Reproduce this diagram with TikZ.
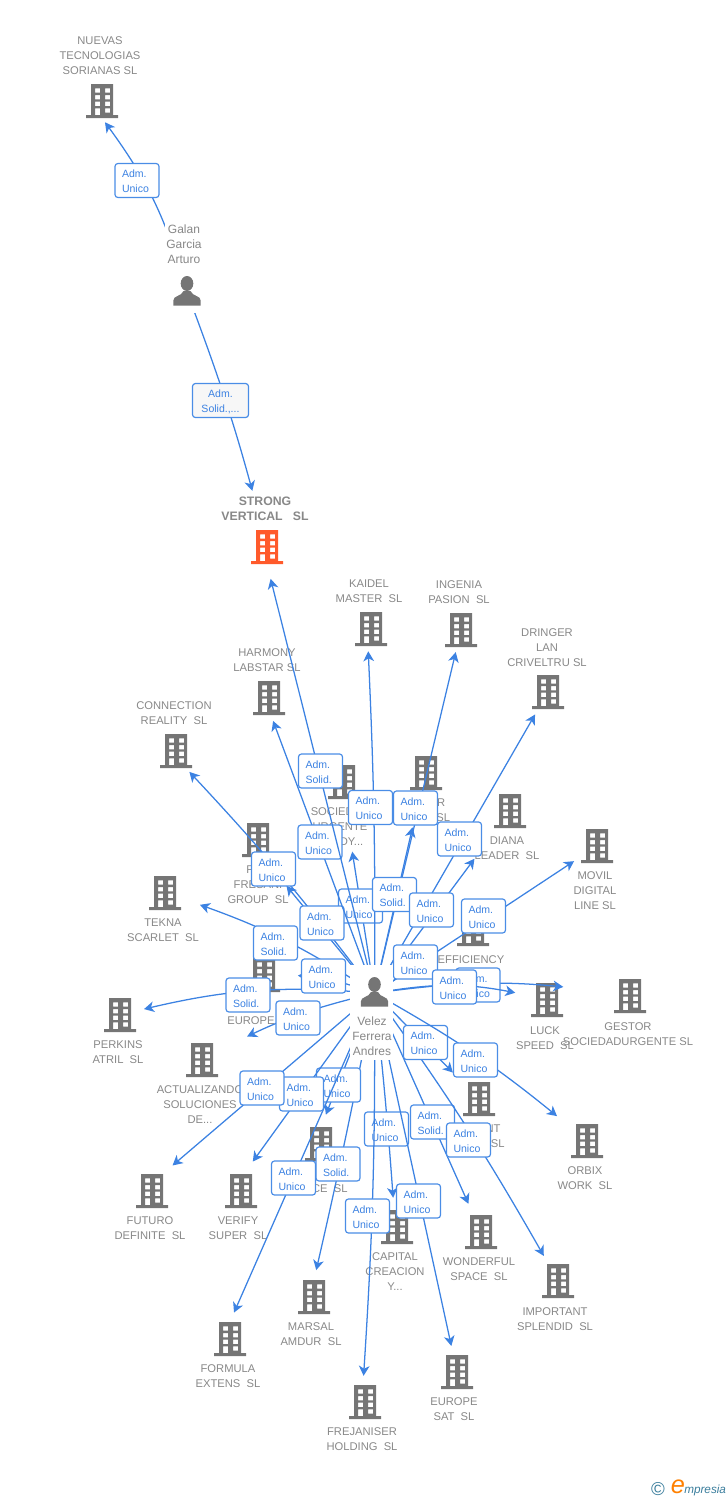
\documentclass[tikz,border=0pt]{standalone}
\usepackage{fontspec}
\setmainfont{Liberation Sans}
\usetikzlibrary{arrows.meta,bending}
\definecolor{linkblue}{HTML}{3C82E2}
\definecolor{boxblue}{HTML}{4A8DE6}
\definecolor{namegray}{HTML}{888888}
\definecolor{icongray}{HTML}{757575}
\definecolor{strongred}{HTML}{FF5A2B}
\definecolor{logoteal}{HTML}{3A7D9C}
\def\px{0.75pt}
\def\building[#1](#2)(#3){\node[inner sep=0pt,minimum width=32*\px,minimum height=34*\px] (#2) at (#3) {};
	\fill[#1,even odd rule,shift={(#3)}] (-16,17) rectangle (16,14) (-11,14) rectangle (11,-17)
		(-7,-12.7) rectangle (-2,-8.3) (3,-12.7) rectangle (8,-8.3)
		(-7,-6) rectangle (-2,-1.7) (3,-6) rectangle (8,-1.7)
		(-7,0.7) rectangle (-2,5) (3,0.7) rectangle (8,5)
		(-7,7.3) rectangle (-2,14) (3,7.3) rectangle (8,11.7);}
\def\person(#1){\fill[icongray,shift={(#1)}] (0,-8.5) ellipse (6.3 and 7.5);
	\fill[icongray,shift={(#1)}] (-13.7,13.5) -- (-13.7,8.5) .. controls (-13.7,3.5) and (-5.5,4.5) .. (-3.5,-1) -- (3.5,-1) .. controls (5.5,4.5) and (13.7,3.5) .. (13.7,8.5) -- (13.7,13.5) -- cycle;}
\tikzset{
	link/.style={draw=linkblue,line width=0.95pt,-{Stealth[length=7.5pt,width=8pt,inset=2.2pt]}},
	blankend/.style={inner sep=0pt,minimum width=28*\px,minimum height=28*\px},
	firmname/.style={text=namegray,align=center,inner sep=0pt,yshift=-1*\px,font=\fontsize{8.4}{11.25}\selectfont},
	bossname/.style={text=namegray,align=center,inner sep=0pt,font=\fontsize{9}{11.25}\selectfont},
	adm/.style={draw=boxblue,fill=white,line width=0.9pt,rounded corners=2.2pt,text=linkblue,align=left,
		text width=30*\px,inner xsep=7*\px,inner ysep=0pt,minimum height=34*\px,font=\fontsize{7.9}{11.25}\selectfont,
		execute at begin node={\rule{0pt}{7.5pt}}}
}
\begin{document}
\begin{tikzpicture}[x=\px,y=-\px]
	%%%%% START %%%%%
	\useasboundingbox (0,0) rectangle (728,1500);
	
	\building[icongray](nuevas)(102,101)
	\node[firmname] (nuevasname) at (100,55) {NUEVAS\\TECNOLOGIAS\\SORIANAS SL};
	\building[strongred](strong)(267,547)
	\node[firmname,font=\fontsize{9.2}{11.25}\selectfont\bfseries] (strongname) at (265,507.5) {STRONG\\VERTICAL~~~SL};
	\building[icongray](kaidel)(371,629)
	\node[firmname] (kaidelname) at (369,590.5) {KAIDEL\\MASTER~~SL};
	\building[icongray](ingenia)(461,630)
	\node[firmname] (ingenianame) at (459,591.5) {INGENIA\\PASION~~SL};
	\building[icongray](dringer)(548,692)
	\node[firmname] (dringername) at (547,647) {DRINGER\\LAN\\CRIVELTRU SL};
	\building[icongray](harmony)(269,698)
	\node[firmname] (harmonyname) at (267,659.5) {HARMONY\\LABSTAR SL};
	\building[icongray](connection)(176,751)
	\node[firmname] (connectionname) at (174,712.5) {CONNECTION\\REALITY~~SL};
	\building[icongray](sociedad)(344,782)
	\node[firmname] (sociedadname) at (340,826) {SOCIEDAD\\URGENTE\\READY...};
	\building[icongray](power)(426,773)
	\node[firmname] (powername) at (424,809.5) {POWER\\FIRST~~SL};
	\building[icongray](diana)(510,811)
	\node[firmname] (diananame) at (507,847.5) {DIANA\\LEADER~~SL};
	\building[icongray](movil)(597,846)
	\node[firmname] (movilname) at (595,890) {MOVIL\\DIGITAL\\LINE SL};
	\building[icongray](fresani)(258,840)
	\node[firmname] (fresaniname) at (258,884) {FOX\\FRESANI\\GROUP~~SL};
	\building[icongray](tekna)(165,893)
	\node[firmname] (teknaname) at (163,929.5) {TEKNA\\SCARLET~~SL};
	\building[icongray](efficiency)(473,929)
	\node[firmname] (efficiencyname) at (471,959) {EFFICIENCY};
	\building[icongray](europe)(264,975)
	\node[firmname] (europename) at (251,1020) {EUROPE};
	\building[icongray](perkins)(120,1015)
	\node[firmname] (perkinsname) at (118,1051.5) {PERKINS\\ATRIL~~SL};
	\building[icongray](actualizando)(202,1060)
	\node[firmname] (actualizandoname) at (200,1104) {ACTUALIZANDO\\SOLUCIONES\\DE...};
	\building[icongray](luck)(547,1000)
	\node[firmname] (luckname) at (545,1037.5) {LUCK\\SPEED~~SL};
	\building[icongray](gestor)(630,996)
	\node[firmname] (gestorname) at (628,1033.5) {GESTOR\\SOCIEDADURGENTE SL};
	\building[icongray](instant)(479,1099)
	\node[firmname] (instantname) at (477,1135.5) {INSTANT\\PRIME~~SL};
	\building[icongray](orbix)(587,1141)
	\node[firmname] (orbixname) at (585,1177.5) {ORBIX\\WORK~~SL};
	\building[icongray](space)(321,1144)
	\node[firmname] (spacename) at (319,1188) {SPACE~~SL};
	\building[icongray](futuro)(152,1191)
	\node[firmname] (futuroname) at (150,1227.5) {FUTURO\\DEFINITE~~SL};
	\building[icongray](verify)(241,1191)
	\node[firmname] (verifyname) at (238,1227.5) {VERIFY\\SUPER~~SL};
	\building[icongray](capital)(397,1227)
	\node[firmname] (capitalname) at (395,1271) {CAPITAL\\CREACION\\Y...};
	\building[icongray](wonderful)(481,1232)
	\node[firmname] (wonderfulname) at (479,1268.5) {WONDERFUL\\SPACE~~SL};
	\building[icongray](important)(558,1281)
	\node[firmname] (importantname) at (555,1318.5) {IMPORTANT\\SPLENDID~~SL};
	\building[icongray](marsal)(314,1297)
	\node[firmname] (marsalname) at (311,1333.5) {MARSAL\\AMDUR~~SL};
	\building[icongray](formula)(230,1339)
	\node[firmname] (formulaname) at (228,1375.5) {FORMULA\\EXTENS~~SL};
	\building[icongray](frejaniser)(365,1402)
	\node[firmname] (frejanisername) at (362,1438.5) {FREJANISER\\HOLDING~~SL};
	\building[icongray](europesat)(457,1372)
	\node[firmname] (europesatname) at (454,1408.5) {EUROPE\\SAT~~SL};
	
	\node[blankend] (galan) at (187,292) {};
	\node[blankend] (velez) at (374.5,993) {};
	
	\draw[link,shorten >=5*\px] (galan) to[bend right=10] (nuevas.south);
	\node[adm] (boxnuevas) at (137,180.5) {Adm.\\Unico};
	\draw[link,shorten >=42*\px] (galan) to[bend left=3] (strong);
	\node[adm,fill=black!3,text width=42*\px,align=center] (boxstrong) at (220.5,400.5) {Adm.\\Solid.,...};
	
	\draw[link,shorten >=12*\px] (velez) to[bend left=1] ([xshift=-3*\px]capital.north);
	\node[adm] (boxcapital) at (386.5,1129) {Adm.\\Unico};
	\draw[link,shorten >=53*\px] (velez) -- (sociedad.south);
	\node[adm] (boxsociedad) at (360.5,906) {Adm.\\Unico};
	\draw[link,shorten >=10*\px] (velez) to[bend left=1] (marsal.north);
	\draw[link,shorten >=13*\px] (velez) -- (space.north);
	\node[adm] (boxspace) at (338.5,1085) {Adm.\\Unico};
	\node[adm] (boxmarsal) at (338,1164) {Adm.\\Solid.};
	\draw[link,shorten >=10*\px] (velez) -- (formula.north);
	\node[adm] (boxformula) at (293.5,1178) {Adm.\\Unico};
	\draw[link,shorten >=15*\px] (velez) -- ([xshift=3*\px]verify.north);
	\node[adm] (boxverify) at (301.5,1094) {Adm.\\Unico};
	\draw[link,shorten >=27*\px] (velez) -- ([yshift=8*\px]futuro.center);
	\node[adm] (boxfuturo) at (262,1088) {Adm.\\Unico};
	\draw[link,shorten >=9*\px] (velez) to[bend left=2] ([xshift=-2*\px]frejaniser.north);
	\node[adm] (boxfrejaniser) at (367.5,1216) {Adm.\\Unico};
	\draw[link,shorten >=9*\px] (velez) -- (europesat);
	\node[adm] (boxeuropesat) at (418.5,1201) {Adm.\\Unico};
	\draw[link,shorten >=12*\px] (velez) -- (wonderful);
	\node[adm] (boxwonderful) at (432.5,1122) {Adm.\\Solid.};
	\draw[link,shorten >=9*\px] (velez) to[bend left=3] (important);
	\node[adm] (boximportant) at (468.5,1140) {Adm.\\Unico};
	\draw[link,shorten >=14*\px] (velez) -- (instant);
	\node[adm] (boxinstant) at (425.5,1042.5) {Adm.\\Unico};
	\draw[link,shorten >=18*\px] (velez) to[bend left=5] (orbix);
	\node[adm] (boxorbix) at (475.5,1060) {Adm.\\Unico};
	\draw[link,shorten >=34*\px] (velez) to[bend right=7] (actualizando);
	\node[adm] (boxactualizando) at (298,1018) {Adm.\\Unico};
	\draw[link,shorten >=8*\px] (velez) to[bend right=9] (perkins);
	\node[adm] (boxperkins) at (248,995) {Adm.\\Solid.};
	\draw[link,shorten >=20*\px] (velez) to[bend right=7] (tekna);
	\node[adm] (boxtekna) at (275.5,943) {Adm.\\Solid.};
	\draw[link,shorten >=18*\px] (velez) to[bend right=9] (europe);
	\node[adm] (boxeurope) at (323.5,976) {Adm.\\Unico};
	\draw[link,shorten >=5*\px] (velez) to[bend right=3] ([xshift=10*\px]connection.south);
	\node[adm] (boxconnection) at (273.5,869) {Adm.\\Unico};
	\draw[link,shorten >=37*\px] (velez) -- ([xshift=5*\px]fresani.south);
	\node[adm] (boxfresani) at (322,923) {Adm.\\Unico};
	\draw[link,shorten >=6*\px] (velez) -- ([xshift=2*\px]harmony.south);
	\node[adm] (boxharmony) at (320,842) {Adm.\\Unico};
	\draw[link,shorten >=15*\px] (velez) -- (strong.south);
	\node[adm] (boxsolid) at (320.5,771) {Adm.\\Solid.};
	\draw[link,shorten >=5*\px] (velez) to[bend right=1.5] ([xshift=-3*\px]kaidel.south);
	\node[adm] (boxkaidel) at (370.5,807.5) {Adm.\\Unico};
	\draw[link,shorten >=5*\px] (velez) -- (ingenia);
	\node[adm] (boxingenia) at (415.5,808) {Adm.\\Unico};
	\draw[link,shorten >=38*\px] (velez) -- ([xshift=-5*\px]power.south);
	\node[adm] (boxpower) at (394.5,894.5) {Adm.\\Solid.};
	\draw[link,shorten >=6*\px] (velez) -- (dringer);
	\node[adm] (boxdringer) at (459.5,839) {Adm.\\Unico};
	\draw[link,shorten >=38*\px] (velez) -- (diana);
	\node[adm] (boxdiana) at (431.5,910) {Adm.\\Unico};
	\draw[link,shorten >=8*\px] (velez) -- (movil);
	\node[adm] (boxmovil) at (483.5,916) {Adm.\\Unico};
	\draw[link,shorten >=32*\px] (velez) -- (efficiency);
	\node[adm] (boxefficiency) at (415.5,962) {Adm.\\Unico};
	\draw[link,shorten >=54*\px] (velez) to[bend left=8] (gestor);
	\node[adm] (boxgestor) at (478,985) {Adm.\\Unico};
	\draw[link,shorten >=16*\px] (velez) to[bend left=11] (luck);
	\node[adm] (boxluck) at (454.5,987) {Adm.\\Unico};
	
	\fill[white] (165,222) rectangle (205,313);
	\fill[white] (350,965) rectangle (393,1060);
	\person(187,292)
	\person(374.5,993)
	\node[bossname] (galanname) at (184,244) {Galan\\Garcia\\Arturo};
	\node[bossname] (velezname) at (372,1036) {Velez\\Ferrera\\Andres};
	
	\node[text=logoteal,inner sep=0pt,font=\fontsize{14}{14}\selectfont] (copysign) at (658,1489) {©};
	\node[text=orange,inner sep=0pt,font=\fontsize{19}{19}\selectfont\itshape] (logoe) at (678,1487) {e};
	\node[text=logoteal,inner sep=0pt,font=\fontsize{8.8}{9}\selectfont\itshape,anchor=west] (logotext) at (684,1490) {mpresia};
	%%%%% END %%%%%
\end{tikzpicture}
\end{document}
